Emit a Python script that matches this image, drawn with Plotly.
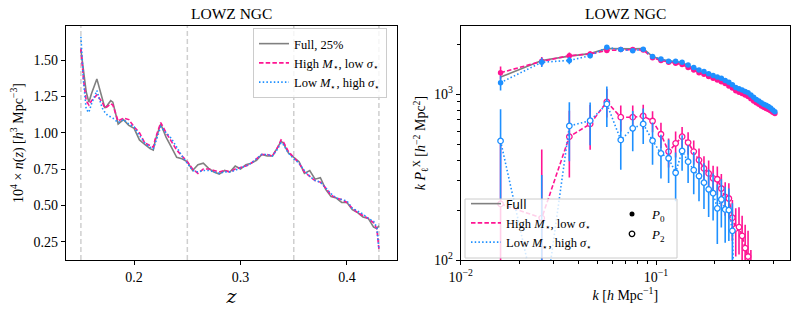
import plotly.graph_objects as go

# ---------------- Left panel: n(z) ----------------
z = [0.150, 0.1525, 0.155, 0.1575, 0.160, 0.165, 0.170, 0.1725, 0.175, 0.178,
     0.180, 0.185, 0.190, 0.195, 0.200, 0.205, 0.210, 0.215, 0.218, 0.220,
     0.225, 0.230, 0.235, 0.240, 0.245, 0.250, 0.255, 0.260, 0.265, 0.270,
     0.275, 0.280, 0.285, 0.290, 0.295, 0.300, 0.305, 0.310, 0.315, 0.320,
     0.325, 0.330, 0.335, 0.338, 0.340, 0.345, 0.350, 0.355, 0.360, 0.365,
     0.370, 0.375, 0.380, 0.385, 0.390, 0.395, 0.400, 0.405, 0.410, 0.415,
     0.420, 0.425, 0.428, 0.430]

nz_full = [1.57, 1.42, 1.28, 1.21, 1.27, 1.37, 1.24, 1.17, 1.19, 1.22,
           1.21, 1.06, 1.09, 1.05, 1.03, 0.95, 0.92, 0.89, 0.88, 0.95,
           1.06, 0.97, 0.90, 0.83, 0.82, 0.80, 0.74, 0.78, 0.79, 0.755,
           0.73, 0.715, 0.74, 0.73, 0.77, 0.75, 0.78, 0.79, 0.81, 0.85,
           0.84, 0.84, 0.90, 0.94, 0.93, 0.86, 0.83, 0.80, 0.72, 0.74,
           0.68, 0.69, 0.61, 0.56, 0.55, 0.52, 0.52, 0.47, 0.45, 0.42,
           0.41, 0.35, 0.34, 0.36]

nz_high = [1.58, 1.36, 1.22, 1.19, 1.22, 1.26, 1.21, 1.17, 1.18, 1.20,
           1.19, 1.08, 1.10, 1.09, 1.04, 1.00, 0.93, 0.91, 0.90, 0.96,
           1.07, 1.00, 0.94, 0.88, 0.84, 0.80, 0.75, 0.72, 0.75, 0.75,
           0.74, 0.73, 0.74, 0.73, 0.75, 0.76, 0.77, 0.79, 0.82, 0.85,
           0.85, 0.84, 0.90, 0.95, 0.94, 0.87, 0.83, 0.79, 0.73, 0.70,
           0.67, 0.66, 0.62, 0.57, 0.55, 0.54, 0.52, 0.48, 0.45, 0.43,
           0.41, 0.38, 0.34, 0.20]

nz_low = [1.66, 1.35, 1.16, 1.14, 1.20, 1.29, 1.17, 1.14, 1.12, 1.11,
          1.10, 1.07, 1.09, 1.06, 1.04, 0.98, 0.93, 0.90, 0.89, 0.93,
          1.04, 1.00, 0.96, 0.90, 0.84, 0.79, 0.74, 0.73, 0.74, 0.74,
          0.73, 0.72, 0.73, 0.73, 0.74, 0.76, 0.77, 0.79, 0.82, 0.85,
          0.85, 0.84, 0.89, 0.93, 0.92, 0.86, 0.82, 0.79, 0.74, 0.70,
          0.67, 0.66, 0.62, 0.58, 0.55, 0.54, 0.53, 0.48, 0.46, 0.44,
          0.41, 0.39, 0.35, 0.20]

z_edges = [0.15, 0.25, 0.35, 0.43]
z_ticks = [0.2, 0.3, 0.4]
nz_ticks = [0.25, 0.50, 0.75, 1.00, 1.25, 1.50]

# ---------------- Right panel: k P_l(k) ----------------
k = [0.016, 0.026, 0.036, 0.046, 0.056, 0.066, 0.076, 0.086, 0.096, 0.106,
     0.116, 0.126, 0.136, 0.146, 0.156, 0.166, 0.176, 0.186, 0.196, 0.206,
     0.216, 0.226, 0.236, 0.246, 0.256, 0.266, 0.276, 0.286, 0.296, 0.306,
     0.316, 0.326, 0.336, 0.346, 0.356, 0.366, 0.376, 0.386, 0.396, 0.406]

p0_full = [1270, 1600, 1700, 1760, 1890, 1880, 1880, 1890, 1690, 1620,
           1590, 1570, 1550, 1480, 1430, 1380, 1350, 1310, 1280, 1250,
           1230, 1200, 1160, 1130, 1090, 1060, 1050, 1030, 1010, 980,
           950, 920, 900, 880, 860, 850, 840, 820, 800, 780]

p0_high = [1350, 1580, 1710, 1750, 1840, 1860, 1860, 1850, 1660, 1600,
           1560, 1540, 1510, 1450, 1400, 1350, 1320, 1280, 1250, 1220,
           1190, 1160, 1120, 1090, 1050, 1030, 1010, 990, 970, 940,
           910, 890, 870, 850, 835, 820, 810, 795, 780, 765]
p0_high_err = [120, 100, 75, 60, 50, 40, 35, 30, 28, 25,
               22, 20, 19, 18, 17, 16, 15, 15, 14, 14,
               13, 13, 12, 12, 12, 11, 11, 11, 10, 10,
               10, 10, 10, 9, 9, 9, 9, 9, 8, 8]

p0_low = [1175, 1560, 1600, 1710, 1920, 1860, 1830, 1870, 1690, 1630,
          1580, 1580, 1560, 1500, 1450, 1400, 1370, 1330, 1300, 1270,
          1250, 1210, 1180, 1140, 1100, 1080, 1060, 1040, 1020, 990,
          960, 930, 910, 890, 870, 860, 845, 825, 805, 785]
p0_low_err = [120, 100, 80, 60, 50, 40, 35, 30, 28, 25,
              22, 20, 19, 18, 17, 16, 15, 15, 14, 14,
              13, 13, 12, 12, 12, 11, 11, 11, 10, 10,
              10, 10, 10, 9, 9, 9, 9, 9, 8, 8]

p2_high = [218, 179, 555, 662, 900, 727, 727, 740, 690, 574,
           451, 506, 555, 511, 451, 401, 357, 333, 311, 307,
           270, 240, 235, 180, 155, 158, 140, 118, 105, 70,
           40]
p2_high_err = [290, 286, 240, 200, 175, 130, 130, 125, 100, 100,
               90, 90, 80, 80, 75, 70, 65, 65, 60, 60,
               60, 55, 55, 50, 50, 50, 45, 45, 45, 45,
               45]

p2_low = [523, 40, 644, 693, 874, 530, 623, 662, 525, 440,
          411, 336, 455, 392, 349, 321, 293, 267, 253, 205,
          232, 202, 200, 150, 30]
p2_low_err = [290, 286, 250, 200, 240, 180, 170, 160, 150, 130,
              120, 110, 110, 100, 100, 95, 90, 85, 80, 80,
              75, 75, 70, 70, 70]

k_major = [0.01, 0.1]
k_major_text = ["10<sup>−2</sup>", "10<sup>−1</sup>"]
k_minor = [0.02, 0.03, 0.04, 0.05, 0.06, 0.07, 0.08, 0.09, 0.2, 0.3, 0.4]
p_major = [100, 1000]
p_major_text = ["10<sup>2</sup>", "10<sup>3</sup>"]
p_minor = [200, 300, 400, 500, 600, 700, 800, 900, 2000]

# ---------------- style ----------------
PINK = "#ff1493"
BLUE = "#1e90ff"
GRAY = "#808080"
SERIF = "Liberation Serif"
DASH = "4.5px,2.2px"
DOT = "1.5px,2.2px"
W, H = 797, 314

fig = go.Figure()

# left panel
fig.add_trace(go.Scatter(x=z, y=nz_full, mode="lines", name="Full, 25%",
                         line=dict(color=GRAY, width=1.6), xaxis="x", yaxis="y", legend="legend"))
fig.add_trace(go.Scatter(x=z, y=nz_high, mode="lines",
                         name="High <i>M</i><sub>⋆</sub>, low <i>σ</i><sub>⋆</sub>",
                         line=dict(color=PINK, width=1.6, dash=DASH), xaxis="x", yaxis="y", legend="legend"))
fig.add_trace(go.Scatter(x=z, y=nz_low, mode="lines",
                         name="Low <i>M</i><sub>⋆</sub>, high <i>σ</i><sub>⋆</sub>",
                         line=dict(color=BLUE, width=1.6, dash=DOT), xaxis="x", yaxis="y", legend="legend"))

# right panel: P0
fig.add_trace(go.Scatter(x=k, y=p0_full, mode="lines", showlegend=False,
                         line=dict(color=GRAY, width=1.6), xaxis="x2", yaxis="y2"))
fig.add_trace(go.Scatter(x=k, y=p0_high, mode="lines+markers", showlegend=False,
                         line=dict(color=PINK, width=1.6, dash=DASH),
                         marker=dict(color=PINK, size=5.5),
                         error_y=dict(type="data", array=p0_high_err, color=PINK, thickness=1.6, width=0),
                         xaxis="x2", yaxis="y2"))
fig.add_trace(go.Scatter(x=k, y=p0_low, mode="lines+markers", showlegend=False,
                         line=dict(color=BLUE, width=1.6, dash=DOT),
                         marker=dict(color=BLUE, size=5.5),
                         error_y=dict(type="data", array=p0_low_err, color=BLUE, thickness=1.6, width=0),
                         xaxis="x2", yaxis="y2"))
# right panel: P2
fig.add_trace(go.Scatter(x=k[:len(p2_high)], y=p2_high, mode="lines+markers", showlegend=False,
                         line=dict(color=PINK, width=1.6, dash=DASH),
                         marker=dict(color="white", size=5.5, line=dict(color=PINK, width=1.3)),
                         error_y=dict(type="data", array=p2_high_err, color=PINK, thickness=1.6, width=0),
                         xaxis="x2", yaxis="y2"))
fig.add_trace(go.Scatter(x=k[:len(p2_low)], y=p2_low, mode="lines+markers", showlegend=False,
                         line=dict(color=BLUE, width=1.6, dash=DOT),
                         marker=dict(color="white", size=5.5, line=dict(color=BLUE, width=1.3)),
                         error_y=dict(type="data", array=p2_low_err, color=BLUE, thickness=1.6, width=0),
                         xaxis="x2", yaxis="y2"))

# right legend entries
fig.add_trace(go.Scatter(x=[None], y=[None], mode="lines",
                         name="<span style='font-family:DejaVu Sans;font-size:12px'>Full</span>",
                         line=dict(color=GRAY, width=1.6), xaxis="x2", yaxis="y2", legend="legend2"))
fig.add_trace(go.Scatter(x=[None], y=[None], mode="lines",
                         name="High <i>M</i><sub>⋆</sub>, low <i>σ</i><sub>⋆</sub>",
                         line=dict(color=PINK, width=1.6, dash=DASH), xaxis="x2", yaxis="y2", legend="legend2"))
fig.add_trace(go.Scatter(x=[None], y=[None], mode="lines",
                         name="Low <i>M</i><sub>⋆</sub>, high <i>σ</i><sub>⋆</sub>",
                         line=dict(color=BLUE, width=1.6, dash=DOT), xaxis="x2", yaxis="y2", legend="legend2"))
fig.add_trace(go.Scatter(x=[None], y=[None], mode="markers", name="<i>P</i><sub>0</sub>",
                         marker=dict(color="black", size=5), xaxis="x2", yaxis="y2", legend="legend3"))
fig.add_trace(go.Scatter(x=[None], y=[None], mode="markers", name="<i>P</i><sub>2</sub>",
                         marker=dict(color="white", size=5.5, line=dict(color="black", width=1.3)),
                         xaxis="x2", yaxis="y2", legend="legend3"))

# vertical dashed redshift edges
shapes = []
for ze in z_edges:
    shapes.append(dict(type="line", xref="x", yref="y domain", x0=ze, x1=ze, y0=0, y1=1,
                       line=dict(color="#cfcfcf", width=1.5, dash="5px,3px"), layer="below"))
# right legend frame (fades data beneath like matplotlib framealpha)
shapes.append(dict(type="rect", xref="paper", yref="paper",
                   x0=465 / W, x1=677 / W, y0=1 - 258 / H, y1=1 - 199 / H,
                   fillcolor="rgba(255,255,255,0.8)", line=dict(color="#cccccc", width=1), layer="above"))

axis_common = dict(showline=True, linecolor="black", linewidth=1.2, mirror=True,
                   ticks="outside", ticklen=4, tickwidth=1, tickcolor="black",
                   showgrid=False, zeroline=False, automargin=False,
                   tickfont=dict(family=SERIF, size=14, color="black"))

fig.update_layout(
    template="none",
    width=W, height=H,
    margin=dict(l=0, r=0, t=0, b=0, autoexpand=False),
    paper_bgcolor="white", plot_bgcolor="white",
    font=dict(family=SERIF, color="black"),
    xaxis=dict(domain=[66 / W, 397 / W], range=[0.136, 0.447], tickvals=z_ticks,
               tickformat=".1f", anchor="y",
               title=dict(text="<i>z</i>", font=dict(family="DejaVu Serif", size=19), standoff=4),
               **axis_common),
    yaxis=dict(domain=[1 - 260 / H, 1 - 26 / H], range=[0.124, 1.734], tickvals=nz_ticks,
               tickformat=".2f", anchor="x",
               title=dict(text="10<sup>4</sup> × <i>n</i>(<i>z</i>) [<i>h</i><sup>3</sup> Mpc<sup>−3</sup>]",
                          font=dict(family=SERIF, size=14), standoff=6),
               **axis_common),
    xaxis2=dict(domain=[460.7 / W, 790 / W], type="log", range=[-2, -0.314],
                tickmode="array", tickvals=k_major, ticktext=k_major_text, anchor="y2",
                minor=dict(tickvals=k_minor, ticks="outside", ticklen=2.5, tickcolor="black"),
                title=dict(text="<i>k</i> [<i>h</i> Mpc<sup>−1</sup>]", font=dict(family=SERIF, size=14), standoff=4),
                **axis_common),
    yaxis2=dict(domain=[1 - 260 / H, 1 - 26 / H], type="log", range=[2, 3.412],
                tickmode="array", tickvals=p_major, ticktext=p_major_text, anchor="x2",
                minor=dict(tickvals=p_minor, ticks="outside", ticklen=2.5, tickcolor="black"),
                title=dict(text="<i>k P</i><sub>ℓ</sub><sup>X</sup> [<i>h</i><sup>−2</sup> Mpc<sup>2</sup>]",
                           font=dict(family=SERIF, size=14), standoff=4),
                **axis_common),
    legend=dict(x=253 / W, y=1 - 28 / H, xanchor="left", yanchor="top",
                bgcolor="rgba(255,255,255,0.8)", bordercolor="#cccccc", borderwidth=1,
                font=dict(family=SERIF, size=12.5), tracegroupgap=0, itemwidth=30),
    legend2=dict(x=466 / W, y=1 - 257 / H, xanchor="left", yanchor="bottom",
                 bgcolor="rgba(0,0,0,0)", borderwidth=0,
                 font=dict(family=SERIF, size=12.5), tracegroupgap=0, itemwidth=30),
    legend3=dict(x=612 / W, y=1 - 199 / H, xanchor="left", yanchor="top",
                 bgcolor="rgba(0,0,0,0)", borderwidth=0,
                 font=dict(family=SERIF, size=13), tracegroupgap=0, itemwidth=30),
    shapes=shapes,
    annotations=[
        dict(text="LOWZ NGC", x=(66 + 397) / 2 / W, y=1 - 14 / H, xref="paper", yref="paper",
             xanchor="center", yanchor="middle", showarrow=False, font=dict(family=SERIF, size=15.5)),
        dict(text="LOWZ NGC", x=(460.7 + 790) / 2 / W, y=1 - 14 / H, xref="paper", yref="paper",
             xanchor="center", yanchor="middle", showarrow=False, font=dict(family=SERIF, size=15.5)),
    ],
)

fig.write_html("out.html", config={"displayModeBar": False},
               post_script="document.body.style.margin='0';document.body.style.overflow='hidden';")
